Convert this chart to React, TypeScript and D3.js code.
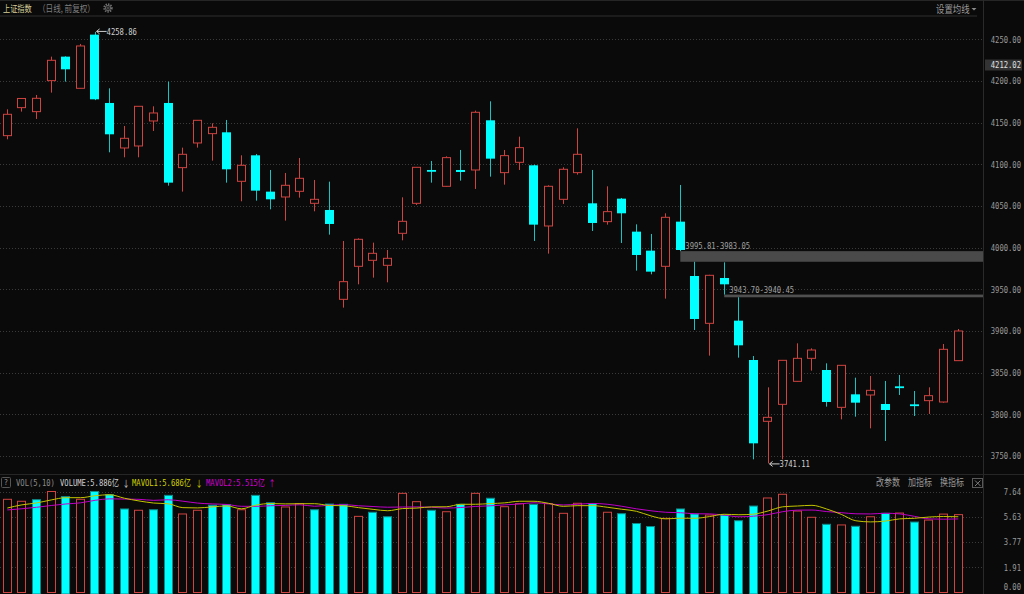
import React from 'react';
import * as d3 from 'd3';

// ---- data ----
const opens = [4134.4, 4168.0, 4163.2, 4200.4, 4229.2, 4191.2, 4255.6, 4173.6, 4119.6, 4122.0, 4152.0, 4173.6, 4096.0, 4125.6, 4136.8, 4138.4, 4079.6, 4110.8, 4067.2, 4060.8, 4067.6, 4053.2, 4045.2, 3938.0, 3977.6, 3984.8, 3978.8, 4017.2, 4053.2, 4093.2, 4073.6, 4093.2, 4093.2, 4152.8, 4090.0, 4102.4, 4098.8, 4026.0, 4058.0, 4090.0, 4053.2, 4031.2, 4058.8, 4019.2, 3996.4, 3977.6, 4031.2, 3966.0, 3909.2, 3963.6, 3912.4, 3865.2, 3791.6, 3812.0, 3839.6, 3867.2, 3853.2, 3808.4, 3824.0, 3823.2, 3812.4, 3833.6, 3812.0, 3816.4, 3814.8, 3864.4];
const highs = [4166.0, 4179.2, 4183.2, 4229.2, 4229.6, 4244.4, 4258.86, 4191.2, 4146.0, 4169.8, 4169.6, 4199.2, 4120.0, 4153.0, 4149.2, 4153.2, 4110.8, 4112.4, 4093.2, 4089.6, 4107.6, 4081.2, 4079.2, 4008.0, 4011.2, 4006.0, 3997.2, 4060.4, 4096.8, 4104.0, 4109.6, 4117.2, 4164.4, 4175.6, 4117.2, 4133.2, 4099.6, 4074.8, 4096.4, 4143.2, 4093.2, 4073.6, 4059.6, 4028.0, 4016.4, 4041.2, 4075.2, 3983.05, 3967.4, 3982.4, 3940.45, 3870.0, 3832.4, 3865.2, 3885.2, 3879.2, 3861.2, 3859.2, 3844.0, 3846.0, 3840.0, 3847.2, 3828.0, 3832.4, 3884.4, 3902.4];
const lows = [4130.0, 4163.2, 4154.4, 4186.0, 4199.2, 4191.0, 4177.0, 4114.4, 4108.4, 4108.4, 4140.0, 4074.4, 4067.2, 4120.0, 4104.4, 4078.0, 4055.6, 4056.4, 4046.0, 4032.4, 4060.0, 4043.6, 4015.6, 3928.0, 3956.0, 3964.0, 3958.4, 4008.8, 4051.2, 4078.0, 4073.0, 4080.4, 4070.4, 4085.2, 4075.6, 4093.2, 4008.0, 3992.8, 4052.4, 4087.6, 4020.0, 4027.6, 4005.6, 3972.4, 3968.0, 3938.8, 3995.81, 3901.2, 3870.4, 3943.70, 3868.0, 3746.0, 3741.11, 3746.0, 3839.0, 3852.4, 3809.2, 3794.0, 3797.2, 3783.2, 3768.0, 3823.2, 3798.0, 3800.4, 3814.0, 3864.0];
const closes = [4160.0, 4179.0, 4179.2, 4224.8, 4214.0, 4242.0, 4178.0, 4136.0, 4131.2, 4169.6, 4161.6, 4078.0, 4112.0, 4152.8, 4144.4, 4094.0, 4098.8, 4068.4, 4058.0, 4074.8, 4083.2, 4058.0, 4028.4, 3959.2, 4010.0, 3993.2, 3987.2, 4031.6, 4096.4, 4092.4, 4108.0, 4090.8, 4162.4, 4106.8, 4110.4, 4120.0, 4027.6, 4073.6, 4094.0, 4112.0, 4029.6, 4043.2, 4041.2, 3991.2, 3971.2, 4036.4, 3997.2, 3914.4, 3966.8, 3956.0, 3882.8, 3765.2, 3796.4, 3864.8, 3867.2, 3877.2, 3814.8, 3858.8, 3814.0, 3828.8, 3805.2, 3832.8, 3811.2, 3822.4, 3878.0, 3900.0];

// volume in 亿
const volumes = [7.05, 6.90, 7.02, 7.64, 7.25, 7.05, 7.64, 7.40, 6.32, 6.22, 6.26, 7.35, 5.94, 6.22, 6.60, 6.64, 6.26, 7.35, 6.79, 6.47, 6.72, 6.26, 6.69, 6.67, 5.76, 6.07, 5.73, 7.50, 6.87, 6.22, 6.11, 6.67, 7.50, 7.13, 6.49, 6.72, 6.67, 6.72, 5.99, 6.75, 6.72, 6.07, 5.96, 5.22, 4.99, 5.61, 6.32, 5.94, 5.86, 5.86, 5.43, 6.54, 7.15, 7.43, 6.16, 5.69, 5.16, 5.11, 5.01, 5.73, 5.99, 6.01, 5.33, 5.48, 5.93, 5.89];
// 1 = red (hollow) volume bar, 0 = cyan bar
const volUp = [1, 1, 0, 1, 0, 1, 0, 0, 0, 1, 0, 0, 1, 1, 0, 0, 1, 0, 0, 1, 1, 0, 0, 0, 1, 0, 0, 1, 1, 0, 1, 0, 1, 0, 1, 1, 0, 1, 1, 1, 0, 1, 0, 0, 0, 1, 0, 0, 1, 0, 0, 0, 1, 1, 1, 1, 0, 1, 0, 1, 0, 1, 0, 1, 1, 1];
// sessions preceding the visible window (estimated from where the MA lines start)
const volBefore = [6.0, 5.9, 6.3, 6.1, 6.2, 5.7, 6.3, 6.5, 6.4];

const priceTicks = [3750, 3800, 3850, 3900, 3950, 4000, 4050, 4100, 4150, 4200, 4250];
const volTickLabels = ['0.00', '1.91', '3.77', '5.63', '7.64'];
const volMax = 7.64;
const highMark = { index: 6, value: 4258.86 };
const lowMark = { index: 52, value: 3741.11 };
const gaps = [
  { from: 46, top: 3995.81, bottom: 3983.05 },
  { from: 49, top: 3943.70, bottom: 3940.45 },
];
const lastPriceLabel = 4212.02;
const title = '上证指数';
const subtitle = '（日线, 前复权）';
const volInfo = { volume: '5.886', ma1: '5.686', ma2: '5.515' };

// ---- layout ----
const W = 1024;
const H = 594;
const PLOT_R = 983;
const BG = '#0a0a0a';
const RED = '#cf4340';
const CYAN = '#00ffff';
const CYAN_WICK = '#17c4c4';
const GRID = '#3a3a3a';
const AXIS_TXT = '#9a9a9a';
const MONO = "'DejaVu Sans Mono', 'Noto Sans CJK SC', monospace";
const CJK = "'Noto Sans CJK SC', 'DejaVu Sans', sans-serif";

type TProps = {
  x: number; y: number; size?: number; sx?: number; anchor?: string; fill?: string; family?: string; children: React.ReactNode;
};
function T({ x, y, size = 9, sx = 0.8, anchor = 'start', fill = AXIS_TXT, family = MONO, children }: TProps) {
  return (
    <text
      transform={`translate(${x},${y}) scale(${sx},1)`}
      fontSize={size}
      textAnchor={anchor as any}
      dominantBaseline="central"
      fill={fill}
      fontFamily={family}
    >
      {children}
    </text>
  );
}

function movingAvg(n: number): number[] {
  const all = [...volBefore, ...volumes];
  const off = volBefore.length;
  return volumes.map((_, i) => d3.mean(all.slice(i + off - n + 1, i + off + 1)) as number);
}

export default function App() {
  const idx = d3.range(opens.length);
  const xb = d3.scaleBand<number>().domain(idx).range([0, 965.6]).paddingInner(0.37).paddingOuter(0.185);
  const bw = xb.bandwidth();
  const cx = (i: number) => (xb(i) as number) + bw / 2;
  const y = d3.scaleLinear().domain([3750, 4250]).range([456, 39.3]);
  const vy = d3.scaleLinear().domain([0, volMax]).range([592.5, 491.5]);
  const crisp = (v: number) => Math.round(v) + 0.5;

  const ma5 = movingAvg(5);
  const ma10 = movingAvg(10);
  const line = d3.line<number>().x((_, i) => cx(i)).y((d) => vy(d)).curve(d3.curveMonotoneX);

  const fmt = d3.format('.2f');
  const volGrid = [0.25, 0.5, 0.75, 1].map((f) => f * volMax);

  const arrowLabel = (i: number, v: number, yy: number) => {
    const x0 = cx(i) + 1.5;
    return (
      <g key={`m${i}`}>
        <path d={`M${x0},${yy} L${x0 + 10},${yy} M${x0},${yy} L${x0 + 3},${yy - 2.5} M${x0},${yy} L${x0 + 3},${yy + 2.5}`} stroke="#d0d0d0" strokeWidth={1} fill="none" />
        <T x={x0 + 10} y={yy} fill="#d0d0d0">{fmt(v)}</T>
      </g>
    );
  };

  return (
    <svg width={W} height={H} style={{ position: 'fixed', left: 0, top: 0, display: 'block' }}>
      <rect x={0} y={0} width={W} height={H} fill={BG} />
      {/* frame lines */}
      <line x1={0} x2={W} y1={0.5} y2={0.5} stroke="#262626" />
      <rect x={0} y={15} width={977} height={2} fill="#1c1c1c" />
      <line x1={PLOT_R + 0.5} x2={PLOT_R + 0.5} y1={0} y2={H} stroke="#2a2a2a" />
      <line x1={0} x2={W} y1={474.5} y2={474.5} stroke="#262626" />

      {/* header */}
      <T x={3} y={8} size={9} fill="#d6cf9a" family={CJK}>{title}</T>
      <T x={38} y={8} size={9.5} fill="#7d7d7d" family={CJK}>{subtitle}</T>
      <g>
        <circle cx={108} cy={8} r={3.8} fill="none" stroke="#6f6f6f" strokeWidth={1.8} strokeDasharray="1.4 1.1" />
        <circle cx={108} cy={8} r={2.6} fill="none" stroke="#6f6f6f" strokeWidth={0.9} />
        <circle cx={108} cy={8} r={1.1} fill="none" stroke="#6f6f6f" strokeWidth={0.8} />
      </g>
      <T x={936} y={8.5} size={10.5} fill="#9a9a9a" family={CJK}>设置均线</T>
      <path d="M971.5,8 L976.5,8 L974,10.5 Z" fill="#8a8a8a" />

      {/* price grid + axis */}
      {priceTicks.map((t) => (
        <g key={`pt${t}`}>
          <line x1={0} x2={PLOT_R} y1={crisp(y(t))} y2={crisp(y(t))} stroke={GRID} strokeDasharray="1 2" />
          <T x={1021} y={y(t)} anchor="end" size={9} fill={AXIS_TXT}>{fmt(t)}</T>
        </g>
      ))}
      <rect x={985} y={59.5} width={37} height={11} fill="#333333" />
      <T x={1021} y={65} anchor="end" size={9} fill="#e0e0e0">{fmt(lastPriceLabel)}</T>

      {/* gaps */}
      {gaps.map((g, k) => (
        <g key={`g${k}`}>
          <rect x={cx(g.from)} y={y(g.top)} width={PLOT_R - cx(g.from)} height={Math.max(2.5, y(g.bottom) - y(g.top))} fill={k === 0 ? '#4a4a4a' : '#4f4f4f'} />
          <T x={cx(g.from) + 5} y={y(g.top) - 5} fill="#a0a0a0">{`${fmt(g.top)}-${fmt(g.bottom)}`}</T>
        </g>
      ))}

      {/* candles */}
      {idx.map((i) => {
        const o = opens[i], c = closes[i], h = highs[i], l = lows[i];
        const up = c >= o;
        const top = y(Math.max(o, c));
        const bot = y(Math.min(o, c));
        const bx = xb(i) as number;
        const wx = crisp(cx(i) - 0.5);
        if (up) {
          const bh = Math.max(1.5, bot - top);
          return (
            <g key={`c${i}`}>
              <line x1={wx} x2={wx} y1={y(h)} y2={top} stroke={RED} />
              <line x1={wx} x2={wx} y1={top + bh} y2={y(l)} stroke={RED} />
              <rect x={Math.round(bx) + 0.5} y={top} width={Math.round(bw) - 1} height={bh} fill={BG} stroke={RED} strokeWidth={1} />
            </g>
          );
        }
        const bh = Math.max(1.8, bot - top);
        return (
          <g key={`c${i}`}>
            <line x1={wx} x2={wx} y1={y(h)} y2={y(l)} stroke={CYAN_WICK} />
            <rect x={Math.round(bx)} y={top} width={Math.round(bw)} height={bh} fill={CYAN} />
          </g>
        );
      })}

      {arrowLabel(highMark.index, highMark.value, y(highMark.value) - 0.5)}
      {arrowLabel(lowMark.index, lowMark.value, y(lowMark.value) + 0.5)}

      {/* volume header */}
      <rect x={1.5} y={477.5} width={9} height={10} fill="none" stroke="#555" rx={1} />
      <T x={6} y={482.5} anchor="middle" size={8} sx={0.9} fill="#8a8a8a">?</T>
      <T x={16} y={483} fill="#8a8a8a">VOL(5,10)</T>
      <T x={60} y={483} fill="#d0d0d0">{`VOLUME:${volInfo.volume}亿`}</T>
      <T x={122.5} y={483} fill="#d0d0d0" family={CJK}>↓</T>
      <T x={132} y={483} fill="#d2d200">{`MAVOL1:${volInfo.ma1}亿`}</T>
      <T x={195.5} y={483} fill="#d2d200" family={CJK}>↓</T>
      <T x={206} y={483} fill="#d000d0">{`MAVOL2:${volInfo.ma2}亿`}</T>
      <T x={268.5} y={483} fill="#d000d0" family={CJK}>↑</T>
      <T x={876} y={482.5} size={10} fill="#9a9a9a" family={CJK}>改参数</T>
      <T x={908} y={482.5} size={10} fill="#9a9a9a" family={CJK}>加指标</T>
      <T x={940} y={482.5} size={10} fill="#9a9a9a" family={CJK}>换指标</T>
      <rect x={972.5} y={478.5} width={10} height={9} fill="none" stroke="#5a5a5a" />
      <path d="M975,480.5 L980.5,486 M980.5,480.5 L975,486" stroke="#8a8a8a" strokeWidth={0.9} />

      {/* volume grid + axis */}
      {volGrid.map((v, k) => (
        <line key={`vg${k}`} x1={0} x2={PLOT_R} y1={crisp(vy(v))} y2={crisp(vy(v))} stroke={GRID} strokeDasharray="1 2" />
      ))}
      {volTickLabels.map((lab, k) => (
        <T key={`vl${k}`} x={1021} y={k === 0 ? 586.5 : vy((k / 4) * volMax)} anchor="end" fill={AXIS_TXT}>{lab}</T>
      ))}

      {/* volume bars */}
      {volumes.map((v, i) => {
        const bx = Math.round(xb(i) as number);
        const top = vy(v);
        if (volUp[i]) {
          return <rect key={`v${i}`} x={bx + 0.5} y={top} width={Math.round(bw) - 1} height={592.5 - top} fill={BG} stroke={RED} />;
        }
        return <rect key={`v${i}`} x={bx + 0.5} y={top} width={Math.round(bw) - 1} height={594 - top} fill={CYAN} stroke="#0e8a8a" />;
      })}

      {/* MA lines */}
      <path d={line(ma10) as string} fill="none" stroke="#c000c8" strokeWidth={1} />
      <path d={line(ma5) as string} fill="none" stroke="#c4c400" strokeWidth={1} />
    </svg>
  );
}
